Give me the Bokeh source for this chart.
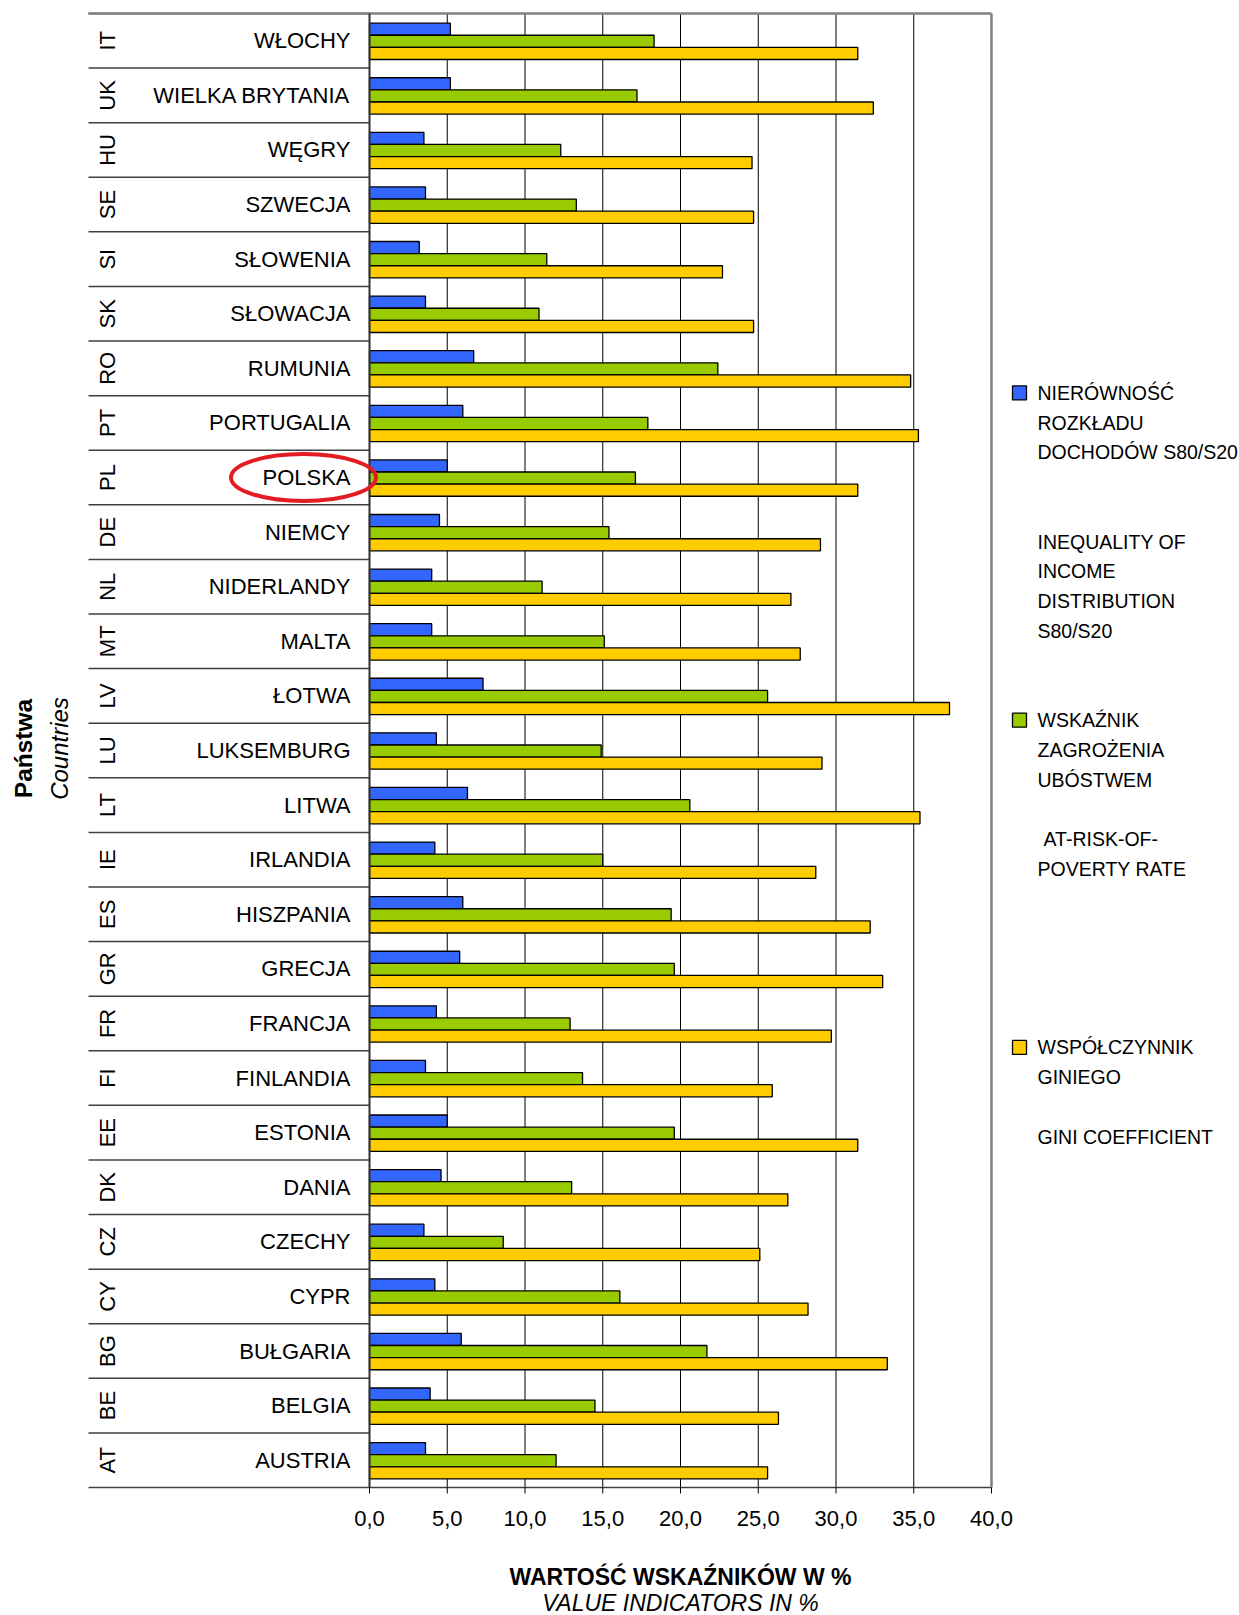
import math
from bokeh.plotting import figure
from bokeh.core.properties import value
from bokeh.embed import file_html
from bokeh.resources import INLINE

# ---------------- data (top row first) ----------------
codes = ["IT", "UK", "HU", "SE", "SI", "SK", "RO", "PT", "PL", "DE", "NL", "MT", "LV", "LU",
         "LT", "IE", "ES", "GR", "FR", "FI", "EE", "DK", "CZ", "CY", "BG", "BE", "AT"]
names = ["WŁOCHY", "WIELKA BRYTANIA", "WĘGRY", "SZWECJA", "SŁOWENIA", "SŁOWACJA", "RUMUNIA",
         "PORTUGALIA", "POLSKA", "NIEMCY", "NIDERLANDY", "MALTA", "ŁOTWA", "LUKSEMBURG",
         "LITWA", "IRLANDIA", "HISZPANIA", "GRECJA", "FRANCJA", "FINLANDIA", "ESTONIA",
         "DANIA", "CZECHY", "CYPR", "BUŁGARIA", "BELGIA", "AUSTRIA"]
s80s20 = [5.2, 5.2, 3.5, 3.6, 3.2, 3.6, 6.7, 6.0, 5.0, 4.5, 4.0, 4.0, 7.3, 4.3,
          6.3, 4.2, 6.0, 5.8, 4.3, 3.6, 5.0, 4.6, 3.5, 4.2, 5.9, 3.9, 3.6]
poverty = [18.3, 17.2, 12.3, 13.3, 11.4, 10.9, 22.4, 17.9, 17.1, 15.4, 11.1, 15.1, 25.6, 14.9,
           20.6, 15.0, 19.4, 19.6, 12.9, 13.7, 19.6, 13.0, 8.6, 16.1, 21.7, 14.5, 12.0]
gini = [31.4, 32.4, 24.6, 24.7, 22.7, 24.7, 34.8, 35.3, 31.4, 29.0, 27.1, 27.7, 37.3, 29.1,
        35.4, 28.7, 32.2, 33.0, 29.7, 25.9, 31.4, 26.9, 25.1, 28.2, 33.3, 26.3, 25.6]

x_ticks = [0, 5, 10, 15, 20, 25, 30, 35, 40]
x_tick_labels = ["0,0", "5,0", "10,0", "15,0", "20,0", "25,0", "30,0", "35,0", "40,0"]

legend_s80 = ["NIERÓWNOŚĆ", "ROZKŁADU", "DOCHODÓW S80/S20", "INEQUALITY OF", "INCOME",
              "DISTRIBUTION", "S80/S20"]
legend_pov = ["WSKAŹNIK", "ZAGROŻENIA", "UBÓSTWEM", "AT-RISK-OF-", "POVERTY RATE"]
legend_gini = ["WSPÓŁCZYNNIK", "GINIEGO", "GINI COEFFICIENT"]

y_title_pl = "Państwa"
y_title_en = "Countries"
x_title_pl = "WARTOŚĆ WSKAŹNIKÓW W %"
x_title_en = "VALUE INDICATORS IN %"
highlight = "PL"

# ---------------- styles / layout ----------------
BLUE, GREEN, YELLOW = "#3366FF", "#99CC00", "#FFCC00"
FONT = "Liberation Sans"
W, H = 1239, 1615
PX_X0 = 369            # canvas px where x = 0
PX_PER_X = 15.55       # px per unit of x
PX_Y0 = 1487           # canvas px where y = 0 (bottom of rows)
ROW_PX = 54.593        # px per row
N = len(codes)


def dx(px):
    return (px - PX_X0) / PX_PER_X


def dy(py):
    return (PX_Y0 - py) / ROW_PX


p = figure(width=W, height=H, x_range=(dx(0), dx(W)), y_range=(dy(H), dy(0)),
           output_backend="svg", toolbar_location=None,
           x_axis_location=None, y_axis_location=None,
           min_border_left=0, min_border_right=0, min_border_top=0, min_border_bottom=0)
p.outline_line_color = None
p.xgrid.visible = False
p.ygrid.visible = False
p.background_fill_color = "white"
p.border_fill_color = "white"

centers = [N - i - 0.5 for i in range(N)]
BH = 0.222
SHIFT = -0.01

# gridlines
p.segment(x0=x_ticks[1:-1], y0=0, x1=x_ticks[1:-1], y1=N, line_color="black", line_width=1)

# bars
p.hbar(y=[c + BH + SHIFT for c in centers], left=0, right=s80s20, height=BH,
       fill_color=BLUE, line_color="black", line_width=1.3)
p.hbar(y=[c + SHIFT for c in centers], left=0, right=poverty, height=BH,
       fill_color=GREEN, line_color="black", line_width=1.3)
p.hbar(y=[c - BH + SHIFT for c in centers], left=0, right=gini, height=BH,
       fill_color=YELLOW, line_color="black", line_width=1.3)

# frame lines
left_edge = dx(88)
p.segment(x0=left_edge, y0=list(range(N + 1)), x1=0, y1=list(range(N + 1)),
          line_color="#404040", line_width=1.5)
p.segment(x0=[0], y0=[0], x1=[40], y1=[0], line_color="#404040", line_width=1.5)
p.segment(x0=[left_edge], y0=[N], x1=[40], y1=[N], line_color="#808080", line_width=2.5)
p.segment(x0=[40], y0=[0], x1=[40], y1=[N], line_color="#808080", line_width=2.5)
p.segment(x0=[0], y0=[0], x1=[0], y1=[N], line_color="#303030", line_width=2)

# x ticks and tick labels
p.segment(x0=x_ticks, y0=0, x1=x_ticks, y1=-6 / ROW_PX, line_color="black", line_width=1)
p.text(x=x_ticks, y=dy(1518), text=x_tick_labels, text_align="center",
       text_baseline="middle", text_font=value(FONT), text_font_size="22px",
       text_color="black")

# x title
p.text(x=[20], y=[dy(1576)], text=[x_title_pl], text_align="center", text_baseline="middle",
       text_font=value(FONT), text_font_style="bold", text_font_size="23px",
       text_color="black")
p.text(x=[20], y=[dy(1602)], text=[x_title_en], text_align="center", text_baseline="middle",
       text_font=value(FONT), text_font_style="italic", text_font_size="23px",
       text_color="black")

# category labels
p.text(x=dx(350), y=centers, text=names, text_align="right", text_baseline="middle",
       text_font=value(FONT), text_font_size="22px", text_color="black")
p.text(x=dx(107), y=centers, text=codes, angle=math.pi / 2, text_align="center",
       text_baseline="middle", text_font=value(FONT), text_font_size="22px",
       text_color="black")

# highlight ellipse around Poland
hi = codes.index(highlight)
p.ellipse(x=[dx(303)], y=[centers[hi]], width=145 / PX_PER_X, height=47 / ROW_PX,
          fill_color=None, line_color="#E31B23", line_width=4)

# y title
p.text(x=[dx(23)], y=[dy(748)], text=[y_title_pl], angle=math.pi / 2, text_align="center",
       text_baseline="middle", text_font=value(FONT), text_font_style="bold",
       text_font_size="24.5px", text_color="black")
p.text(x=[dx(59)], y=[dy(748)], text=[y_title_en], angle=math.pi / 2, text_align="center",
       text_baseline="middle", text_font=value(FONT), text_font_style="italic",
       text_font_size="24px", text_color="black")

# legend
LEG_Y0, LEG_STEP = 392.4, 29.75
idx_s80 = [0, 1, 2, 5, 6, 7, 8]
idx_pov = [11, 12, 13, 15, 16]
idx_gini = [22, 23, 25]
indent_pov = [0, 0, 0, 6, 0]
p.scatter(x=[dx(1019)] * 3, y=[dy(LEG_Y0 + LEG_STEP * i) for i in (0, 11, 22)],
          marker="square", size=14, fill_color=[BLUE, GREEN, YELLOW],
          line_color="black", line_width=1.3)
leg_text = legend_s80 + legend_pov + legend_gini
leg_idx = idx_s80 + idx_pov + idx_gini
leg_indent = [0] * len(legend_s80) + indent_pov + [0] * len(legend_gini)
p.text(x=[dx(1037 + d) for d in leg_indent], y=[dy(LEG_Y0 + LEG_STEP * i) for i in leg_idx],
       text=leg_text, text_align="left", text_baseline="middle", text_font=value(FONT),
       text_font_size="19.5px", text_color="black")

open("out.html", "w").write(file_html(p, INLINE))
